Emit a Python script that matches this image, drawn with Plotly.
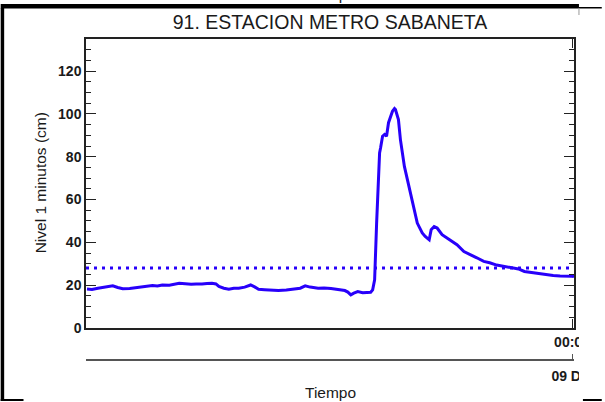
import pandas as pd
import plotly.graph_objects as go

# ---- data (minutes relative to 09 Dic 00:00, level in cm) ----
minutes = [-489, -484, -478, -472, -466, -463, -458, -453, -446, -439, -434, -429,
           -423, -418, -413, -406, -401, -396, -390, -384, -379, -373, -368, -363,
           -359, -356, -351, -346, -341, -336, -330, -324, -320, -316, -310, -304,
           -296, -288, -279, -274, -269, -264, -256, -250, -243, -236, -229, -226,
           -223, -220, -216, -211, -206, -203, -201, -199, -197, -195, -194, -193,
           -191, -189, -187, -185, -183, -181, -179, -178, -175, -173, -169, -166,
           -161, -156, -151, -148, -144, -142, -139, -136, -131, -126, -121, -116,
           -109, -103, -96, -89, -83, -76, -70, -62, -54, -48, -40, -32, -26, -19,
           -12, -6, 0, 2]
nivel = [18.2, 18.0, 18.6, 18.9, 19.2, 19.7, 18.9, 18.3, 18.5, 18.9, 19.0, 19.4,
         19.8, 19.6, 20.1, 20.0, 20.6, 20.9, 20.7, 20.4, 20.6, 20.5, 20.8, 20.9,
         20.6, 19.4, 18.6, 18.1, 18.6, 18.6, 19.1, 20.1, 19.2, 18.1, 17.9, 17.6,
         17.5, 17.7, 18.1, 18.6, 19.7, 19.1, 18.6, 18.7, 18.4, 18.1, 17.5, 16.8,
         15.5, 16.3, 17.0, 16.5, 16.6, 16.7, 17.8, 22.5, 49.0, 72.6, 81.8, 84.2,
         89.6, 90.4, 89.6, 95.9, 99.0, 101.3, 102.5, 102.0, 97.4, 88.0, 75.5, 69.3,
         58.4, 49.0, 44.4, 42.8, 41.2, 45.9, 47.4, 46.7, 43.6, 42.0, 40.4, 38.9,
         35.7, 34.2, 32.8, 31.1, 30.5, 29.4, 29.0, 28.2, 27.6, 26.4, 25.8, 25.4,
         24.9, 24.5, 24.3, 24.4, 24.2, 24.0]
umbral = 28
midnight = "2023-12-09 00:00"
x_range = ["2023-12-08 15:50", "2023-12-09 00:02"]
y_range = [0, 135]
title_text = "91. ESTACION METRO SABANETA"
y_title = "Nivel 1 minutos (cm)"
x_title = "Tiempo"
tick_hour = ["00:00"]
tick_day = ["09 Dic"]

times = pd.Timestamp(midnight) + pd.to_timedelta(minutes, unit="min")

W, H = 605, 402
ML, MR, MT, MB = 86, 27, 39, 42
PW, PH = W - ML - MR, H - MT - MB


def px(p):
    return (p - ML) / PW


def py(p):
    return (H - MB - p) / PH


BLUE = "rgb(40,0,250)"
FONT = "Liberation Sans, Arial, sans-serif"
TXT = "#1a1a1a"

fig = go.Figure()
fig.add_trace(go.Scatter(x=times, y=nivel, mode="lines",
                         line=dict(color=BLUE, width=3), showlegend=False,
                         hoverinfo="skip"))
fig.add_trace(go.Scatter(x=[], y=[], xaxis="x2", yaxis="y", showlegend=False))

fig.add_shape(type="line", xref="x domain", x0=0, x1=1, yref="y", y0=umbral, y1=umbral,
              line=dict(color=BLUE, width=3, dash="3px,5px"))

# white area clipping the tick labels at the right edge (as in the reference)
fig.add_shape(type="rect", xref="paper", yref="paper", x0=px(583), x1=px(606),
              y0=py(395), y1=py(331), fillcolor="white", line=dict(width=0), layer="above")
# page frame remnants
frame = dict(type="rect", xref="paper", yref="paper", fillcolor="black",
             line=dict(width=0), layer="above")
fig.add_shape(**frame, x0=px(0), x1=px(3.5), y0=py(401), y1=py(8))
fig.add_shape(**frame, x0=px(0), x1=px(583), y0=py(8.5), y1=py(4))
fig.add_shape(**frame, x0=px(583), x1=px(606), y0=py(8.5), y1=py(7))
fig.add_shape(**frame, x0=px(0), x1=px(23), y0=py(401), y1=py(399))
fig.add_shape(**frame, x0=px(587), x1=px(606), y0=py(401), y1=py(399))
fig.add_shape(type="line", xref="paper", yref="paper", x0=px(583), x1=px(583),
              y0=py(15), y1=py(8), line=dict(color="#999", width=1), layer="above")

lab = dict(xref="paper", yref="paper", showarrow=False, xanchor="center",
           yanchor="middle", font=dict(family=FONT, size=15.5, color=TXT))
fig.add_annotation(text=y_title, textangle=-90, x=px(40), y=py(183), **lab)
fig.add_annotation(text=x_title, x=px(333), y=py(392), **lab)
fig.add_annotation(text=x_title, x=px(333), y=py(-6), **lab)

tickfont = dict(family=FONT, size=14, color=TXT, weight="bold")
fig.update_layout(
    width=W, height=H, margin=dict(l=ML, r=MR, t=MT, b=MB),
    paper_bgcolor="white", plot_bgcolor="white",
    title=dict(text=title_text, x=px(332), xref="paper", y=1 - 22 / H, yanchor="middle",
               xanchor="center", font=dict(family=FONT, size=19.5, color=TXT)),
    xaxis=dict(type="date", range=x_range, showgrid=False, zeroline=False,
               showline=True, linecolor="#222", linewidth=1.5, mirror="ticks",
               ticks="inside", ticklen=9, tickwidth=1.2, tickcolor="#222",
               tickvals=[midnight], ticktext=tick_hour, tickfont=tickfont,
               anchor="y"),
    xaxis2=dict(type="date", range=x_range, overlaying="x", anchor="free", position=0,
                showgrid=False, zeroline=False, showline=True, linecolor="#555",
                linewidth=2, ticks="inside", ticklen=5, tickwidth=1.2, tickcolor="#555",
                tickvals=[midnight], ticktext=tick_day, tickfont=tickfont,
                ticklabelstandoff=3),
    yaxis=dict(range=y_range, domain=[py(328), 1], showgrid=False, zeroline=False,
               showline=True, linecolor="#222", linewidth=1.5, mirror="ticks",
               ticks="inside", ticklen=10, tickwidth=1.2, tickcolor="#222",
               dtick=20, tick0=0, tickfont=tickfont,
               minor=dict(dtick=5, ticks="inside", ticklen=5, tickcolor="#222")),
)

fig.write_html("out.html", config={"displayModeBar": False},
               post_script="document.body.style.margin='0';")
